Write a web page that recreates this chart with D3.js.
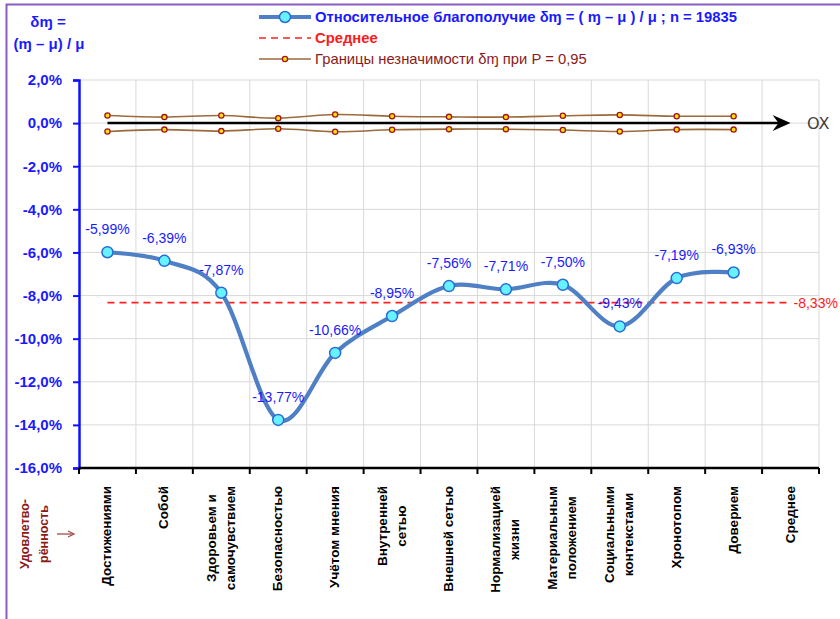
<!DOCTYPE html>
<html><head><meta charset="utf-8">
<script src="https://cdn.jsdelivr.net/npm/d3@7"></script>
<style>body{margin:0;background:#fff}svg{display:block;font-family:"Liberation Sans",Arial,sans-serif}</style>
</head><body><svg id="c" width="840" height="619"></svg>
<script>
const categories = [["Достижениями"],["Собой"],["Здоровьем и","самочувствием"],["Безопасностью"],["Учётом мнения"],["Внутренней","сетью"],["Внешней сетью"],["Нормализацией","жизни"],["Материальным","положением"],["Социальными","контекстами"],["Хронотопом"],["Доверием"],["Среднее"]];
const values = [-5.99,-6.39,-7.87,-13.77,-10.66,-8.95,-7.56,-7.71,-7.50,-9.43,-7.19,-6.93];
const upperBound = [0.35,0.28,0.35,0.23,0.40,0.32,0.29,0.28,0.34,0.38,0.32,0.32];
const lowerBound = [-0.39,-0.30,-0.37,-0.26,-0.40,-0.31,-0.28,-0.28,-0.32,-0.39,-0.30,-0.30];
const meanValue = -8.33;
const yTicks = [2,0,-2,-4,-6,-8,-10,-12,-14,-16];

const svg = d3.select("#c");
const L=79, R=819, T=80, B=468;
const fmt = v => (v.toFixed(2).replace(".",",")+"%");
const x = d3.scaleBand().domain(d3.range(categories.length)).range([L,R]);
const cx = i => x(i)+x.bandwidth()/2;
const y = d3.scaleLinear().domain([-16,2]).range([B,T]);

// frame
svg.append("rect").attr("x",6.5).attr("y",4.5).attr("width",860).attr("height",640).attr("fill","none").attr("stroke","#8a5cc2").attr("stroke-width",2);

// grid
const g = svg.append("g");
g.selectAll(".hg").data(yTicks).join("line").attr("x1",L).attr("x2",R).attr("y1",d=>y(d)).attr("y2",d=>y(d)).attr("stroke","#d9d9d9");
g.selectAll(".vg").data(d3.range(1,categories.length+1)).join("line").attr("x1",d=>x(d-1)+x.bandwidth()).attr("x2",d=>x(d-1)+x.bandwidth()).attr("y1",T).attr("y2",B).attr("stroke","#d9d9d9");

// y axis
const ya = svg.append("g").attr("transform",`translate(${L},0)`).call(d3.axisLeft(y).tickValues(yTicks).tickSize(6).tickFormat(d=>d.toFixed(1).replace(".",",")+"%"));
ya.select(".domain").attr("stroke","#1010ff").attr("stroke-width",2.5);
ya.selectAll(".tick line").attr("stroke","#1010ff").attr("stroke-width",2);
ya.selectAll(".tick text").attr("fill","#1a1aff").attr("font-weight","bold").attr("font-size",15).attr("font-family","Liberation Sans, Arial").attr("x",-17);

// x axis
const xa = svg.append("g").attr("transform",`translate(0,${B})`);
xa.append("line").attr("x1",L).attr("x2",R).attr("stroke","#000").attr("stroke-width",2.5);
xa.selectAll(".xt").data(d3.range(0,categories.length+1)).join("line").attr("x1",d=>L+d*x.bandwidth()).attr("x2",d=>L+d*x.bandwidth()).attr("y1",0).attr("y2",6).attr("stroke","#000").attr("stroke-width",2);

// x labels
categories.forEach((lines,i)=>{
  const gg = svg.append("g").attr("transform",`translate(${cx(i)-1},486) rotate(-90)`);
  const ts = lines.map((t,k)=>gg.append("text").text(t).attr("font-size",13.5).attr("font-weight","bold").attr("fill","#000").attr("text-anchor","middle")
    .attr("y",(k-(lines.length-1)/2)*19+5));
  const w = d3.max(ts,t=>t.node().getComputedTextLength());
  ts.forEach(t=>t.attr("x",-w/2));
});

// Удовлетворённость
const ug = svg.append("g").attr("transform",`translate(34,499) rotate(-90)`);
const ul = ["Удовлетво-","рённость"].map((t,k)=>ug.append("text").text(t).attr("font-size",12.5).attr("font-weight","bold").attr("fill","#8b1a1a").attr("text-anchor","middle").attr("y",(k-0.5)*19+4.5));
const uw = d3.max(ul,t=>t.node().getComputedTextLength());
ul.forEach(t=>t.attr("x",-uw/2));
svg.append("line").attr("x1",57).attr("x2",73).attr("y1",534).attr("y2",534).attr("stroke","#a0504a").attr("stroke-width",1.3);
svg.append("path").attr("d","M68,531 L74,534 L68,537").attr("fill","none").attr("stroke","#a0504a").attr("stroke-width",1.3);

// zero axis with arrow
const x0 = cx(0), x1 = cx(categories.length-1);
svg.append("line").attr("x1",x0).attr("x2",x1-6).attr("y1",y(0)).attr("y2",y(0)).attr("stroke","#000").attr("stroke-width",2.5);
svg.append("path").attr("d",`M${x1},${y(0)} L${x1-18},${y(0)-8} L${x1-12},${y(0)} L${x1-18},${y(0)+8} Z`).attr("fill","#000");
svg.append("text").text("OX").attr("x",807).attr("y",y(0)+6).attr("font-size",16).attr("fill","#404040").attr("font-family","DejaVu Sans, sans-serif");

// bounds
const bl = d3.line().x((d,i)=>cx(i)).y(d=>y(d)).curve(d3.curveCatmullRom.alpha(0));
[upperBound,lowerBound].forEach(arr=>{
  svg.append("path").attr("d",bl(arr)).attr("fill","none").attr("stroke","#9c6a3c").attr("stroke-width",1.6);
  svg.append("g").selectAll("circle").data(arr).join("circle").attr("cx",(d,i)=>cx(i)).attr("cy",d=>y(d)).attr("r",2.6).attr("fill","#ffe000").attr("stroke","#a0151a").attr("stroke-width",1.3);
});

// mean line
svg.append("line").attr("x1",x0).attr("x2",x1).attr("y1",y(meanValue)).attr("y2",y(meanValue)).attr("stroke","#ff2020").attr("stroke-width",1.6).attr("stroke-dasharray","7,5");
svg.append("text").text(fmt(meanValue)).attr("x",x1+3).attr("y",y(meanValue)+5).attr("font-size",14).attr("fill","#ff1a1a");

// main line
svg.append("path").attr("d",bl(values)).attr("fill","none").attr("stroke","#4f7fc4").attr("stroke-width",4.2);
svg.append("g").selectAll("circle").data(values).join("circle").attr("cx",(d,i)=>cx(i)).attr("cy",d=>y(d)).attr("r",5.5).attr("fill","#66f2ff").attr("stroke","#2a6cd6").attr("stroke-width",1.5);
svg.append("g").selectAll("text").data(values).join("text").text(d=>fmt(d)).attr("x",(d,i)=>cx(i)).attr("y",d=>y(d)-18).attr("text-anchor","middle").attr("font-size",14).attr("fill","#1a1aff");

// top-left title
svg.append("text").text("δɱ =").attr("x",48).attr("y",27).attr("text-anchor","middle").attr("font-size",15).attr("font-weight","bold").attr("fill","#1a1aff");
svg.append("text").text("(ɱ – μ) / μ").attr("x",49).attr("y",49).attr("text-anchor","middle").attr("font-size",15).attr("font-weight","bold").attr("fill","#1a1aff");

// legend
const lg = svg.append("g");
lg.append("line").attr("x1",259).attr("x2",311).attr("y1",17).attr("y2",17).attr("stroke","#4f7fc4").attr("stroke-width",4.2);
lg.append("circle").attr("cx",285).attr("cy",17).attr("r",5.5).attr("fill","#66f2ff").attr("stroke","#2a6cd6").attr("stroke-width",1.5);
lg.append("text").text("Относительное благополучие δɱ = ( ɱ – μ ) / μ ; n = 19835").attr("x",315).attr("y",22).attr("font-size",14.8).attr("font-weight","bold").attr("fill","#1a1aff");
lg.append("line").attr("x1",259).attr("x2",311).attr("y1",38).attr("y2",38).attr("stroke","#ff2020").attr("stroke-width",1.6).attr("stroke-dasharray","7,5");
lg.append("text").text("Среднее").attr("x",315).attr("y",43).attr("font-size",14.8).attr("font-weight","bold").attr("fill","#ff1a1a");
lg.append("line").attr("x1",259).attr("x2",311).attr("y1",59).attr("y2",59).attr("stroke","#9c6a3c").attr("stroke-width",1.6);
lg.append("circle").attr("cx",285).attr("cy",59).attr("r",2.6).attr("fill","#ffe000").attr("stroke","#a0151a").attr("stroke-width",1.3);
lg.append("text").text("Границы незначимости δɱ при P = 0,95").attr("x",315).attr("y",64).attr("font-size",14.8).attr("fill","#8b1a1a");
</script></body></html>
